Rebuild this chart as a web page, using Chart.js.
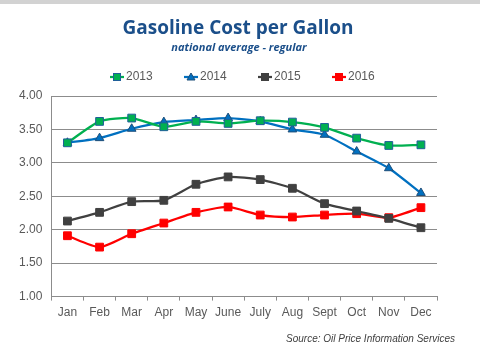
<!DOCTYPE html>
<html>
<head>
<meta charset="utf-8">
<script src="https://cdn.jsdelivr.net/npm/chart.js@4/dist/chart.umd.min.js"></script>
<style>
  html, body { margin: 0; padding: 0; background: #fff; }
  #wrap { position: relative; width: 480px; height: 360px; }
</style>
</head>
<body>
<div id="wrap"><canvas id="chart" width="480" height="360"></canvas></div>
<script>
// Chart data
const months = ['Jan', 'Feb', 'Mar', 'Apr', 'May', 'June', 'July', 'Aug', 'Sept', 'Oct', 'Nov', 'Dec'];
const seriesNames = ['2013', '2014', '2015', '2016'];
const cost2013 = [3.30, 3.62, 3.67, 3.54, 3.62, 3.59, 3.63, 3.61, 3.53, 3.37, 3.26, 3.27];
const cost2014 = [3.30, 3.37, 3.51, 3.61, 3.64, 3.67, 3.62, 3.50, 3.42, 3.17, 2.92, 2.55];
const cost2015 = [2.13, 2.26, 2.42, 2.44, 2.68, 2.79, 2.75, 2.62, 2.39, 2.28, 2.17, 2.03];
const cost2016 = [1.91, 1.74, 1.94, 2.10, 2.26, 2.34, 2.22, 2.19, 2.22, 2.24, 2.18, 2.33];
const yTicks = [1.00, 1.50, 2.00, 2.50, 3.00, 3.50, 4.00];

const titleText = 'Gasoline Cost per Gallon';
const subtitleText = 'national average - regular';
const sourceText = 'Source: Oil Price Information Services';

const gridGray = '#8c8c8c';
const labelGray = '#595959';
const titleBlue = '#1b4f8a';

function makeSeries(label, data, color, border, style, radius) {
  return {
    label: label,
    data: data,
    borderColor: color,
    backgroundColor: color,
    pointBackgroundColor: color,
    pointBorderColor: border,
    pointBorderWidth: 1,
    pointStyle: style,
    pointRadius: radius,
    borderWidth: 2.25,
    tension: 0.2,
    fill: false
  };
}

// Draws titles, legend, source and the grey strip on top
const decorPlugin = {
  id: 'decor',
  beforeDraw(chart) {
    const ctx = chart.ctx;
    ctx.save();
    ctx.fillStyle = '#d2d2d2';
    ctx.fillRect(0, 0, chart.width, 4);
    ctx.restore();
  },
  afterDraw(chart) {
    const ctx = chart.ctx;
    ctx.save();
    ctx.fillStyle = titleBlue;
    ctx.textAlign = 'center';
    ctx.textBaseline = 'middle';
    ctx.font = 'bold 19px "Open Sans", "Liberation Sans", sans-serif';
    ctx.fillText(titleText, 238, 29);
    ctx.font = 'italic bold 11px "Open Sans", "Liberation Sans", sans-serif';
    ctx.fillText(subtitleText, 239, 48);

    // legend
    const startX = [110, 184, 258, 332];
    chart.data.datasets.forEach((ds, i) => {
      const x = startX[i];
      const y = 77;
      ctx.strokeStyle = ds.borderColor;
      ctx.lineWidth = 2.25;
      ctx.beginPath();
      ctx.moveTo(x, y);
      ctx.lineTo(x + 14, y);
      ctx.stroke();
      ctx.fillStyle = ds.pointBackgroundColor;
      ctx.strokeStyle = ds.pointBorderColor;
      ctx.lineWidth = 1;
      const cx = x + 7;
      if (ds.pointStyle === 'triangle') {
        ctx.beginPath();
        ctx.moveTo(cx, y - 4);
        ctx.lineTo(cx + 4, y + 3);
        ctx.lineTo(cx - 4, y + 3);
        ctx.closePath();
        ctx.fill();
        ctx.stroke();
      } else {
        ctx.fillRect(cx - 3.5, y - 3.5, 7, 7);
        ctx.strokeRect(cx - 3.5, y - 3.5, 7, 7);
      }
      ctx.fillStyle = labelGray;
      ctx.textAlign = 'left';
      ctx.font = '12px "Liberation Sans", Arial, sans-serif';
      ctx.fillText(ds.label, x + 16, y);
    });

    ctx.fillStyle = '#404040';
    ctx.textAlign = 'right';
    ctx.font = 'italic 10px "Liberation Sans", Arial, sans-serif';
    ctx.fillText(sourceText, 455, 339);
    ctx.restore();
  }
};

const ctx = document.getElementById('chart').getContext('2d');
new Chart(ctx, {
  type: 'line',
  data: {
    labels: months,
    datasets: [
      makeSeries(seriesNames[0], cost2013, '#00b050', '#1f5f99', 'rect', 5.5),
      makeSeries(seriesNames[1], cost2014, '#0070c0', '#1f4e79', 'triangle', 5),
      makeSeries(seriesNames[2], cost2015, '#404040', '#404040', 'rect', 5.5),
      makeSeries(seriesNames[3], cost2016, '#ff0000', '#ff0000', 'rect', 5.5)
    ]
  },
  options: {
    responsive: false,
    animation: false,
    layout: { padding: { top: 96, left: 10, right: 43, bottom: 35 } },
    plugins: {
      legend: { display: false },
      title: { display: false },
      tooltip: { enabled: false }
    },
    scales: {
      x: {
        offset: true,
        grid: {
          offset: true,
          drawOnChartArea: false,
          drawTicks: true,
          tickLength: 4,
          color: gridGray
        },
        border: { color: gridGray },
        ticks: {
          color: labelGray,
          padding: 5,
          font: { family: '"Liberation Sans", Arial, sans-serif', size: 12 },
          maxRotation: 0,
          autoSkip: false
        }
      },
      y: {
        min: yTicks[0],
        max: yTicks[yTicks.length - 1],
        afterBuildTicks(axis) {
          axis.ticks = yTicks.map(v => ({ value: v }));
        },
        grid: { color: gridGray, drawTicks: false },
        border: { color: gridGray },
        ticks: {
          color: labelGray,
          padding: 9,
          font: { family: '"Liberation Sans", Arial, sans-serif', size: 12 },
          callback: v => Number(v).toFixed(2)
        }
      }
    }
  },
  plugins: [decorPlugin]
});
</script>
</body>
</html>
